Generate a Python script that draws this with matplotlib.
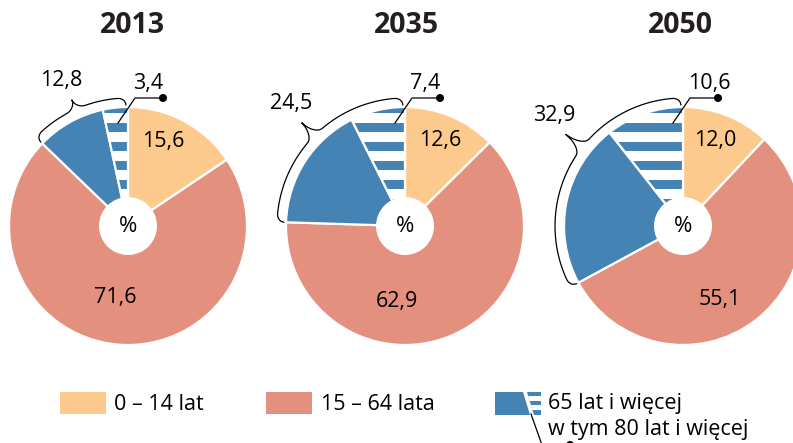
import numpy as np
import matplotlib
matplotlib.use("Agg")
import matplotlib.pyplot as plt
from matplotlib.patches import Wedge, Circle, Rectangle, Polygon

plt.rcParams["font.family"] = ["Open Sans", "DejaVu Sans"]

# --- data (percent of population) ---
YEARS = ["2013", "2035", "2050"]
AGE_0_14 = [15.6, 12.6, 12.0]
AGE_15_64 = [71.6, 62.9, 55.1]
AGE_65_PLUS = [12.8, 24.5, 32.9]
AGE_80_PLUS = [3.4, 7.4, 10.6]
LEGEND_LABELS = ["0 – 14 lat", "15 – 64 lata", "65 lat i więcej", "w tym 80 lat i więcej"]

YELLOW, SALMON, BLUE = "#FDCA8D", "#E4907F", "#4583B4"

# --- layout (pixels, y measured from the top) ---
W, H = 793, 443
CX = [128, 405, 683]
CY = 226
R, R_HOLE = 119, 29
TITLE_X = [132, 406, 680]
LAB_YOUNG = [(35, -85), (35, -86), (32, -86)]
LAB_MID = [(-13, 72), (-8, 76), (37, 74)]
TIP_ANG = [114, 135, 142]
TIP_OFF = [17, 25, 28]


def Y(py):
    return H - py


def fmt(v):
    return f"{v:.1f}".replace(".", ",")


def brace(ax, cx, a_lo, a_hi, a_tip, tip_off, b=7, h=8, ht=10):
    rb = R + 2

    def half(a_end):
        L = rb * np.radians(abs(a_tip - a_end))
        u = np.linspace(0, L, 200)
        off = np.full_like(u, float(b))
        m = u < h
        off[m] = b * np.sqrt(1 - (1 - u[m] / h) ** 2)
        m = u > L - ht
        t = (u[m] - (L - ht)) / ht
        off[m] = b + (tip_off - b) * (1 - np.sqrt(np.clip(1 - t ** 2, 0, 1)))
        ang = a_end + np.sign(a_tip - a_end) * np.degrees(u / rb)
        return ang, rb + off

    a1, r1 = half(a_lo)
    a2, r2 = half(a_hi)
    ang = np.r_[a1, a2[::-1]]
    rr = np.r_[r1, r2[::-1]]
    ax.plot(cx + rr * np.cos(np.radians(ang)), Y(CY) + rr * np.sin(np.radians(ang)),
            color="k", lw=0.9, solid_capstyle="round", zorder=5)
    tr = rb + tip_off
    return cx + tr * np.cos(np.radians(a_tip)), CY - tr * np.sin(np.radians(a_tip))


fig = plt.figure(figsize=(W / 100, H / 100), dpi=100)
ax = fig.add_axes([0, 0, 1, 1])
ax.set_xlim(0, W); ax.set_ylim(0, H); ax.axis("off")

for i, yr in enumerate(YEARS):
    cx, c = CX[i], (CX[i], Y(CY))
    s1 = AGE_0_14[i] * 3.6
    s65 = AGE_65_PLUS[i] * 3.6
    s80 = AGE_80_PLUS[i] * 3.6
    ew = dict(edgecolor="white", lw=1.6, zorder=1)
    ax.add_patch(Wedge(c, R, 90 - s1, 90, facecolor=YELLOW, **ew))
    ax.add_patch(Wedge(c, R, 90 + s65, 450 - s1, facecolor=SALMON, **ew))
    ax.add_patch(Wedge(c, R, 90 + s80, 90 + s65, facecolor=BLUE, **ew))
    old = Wedge(c, R, 90, 90 + s80, facecolor=BLUE, **ew)
    ax.add_patch(old)
    for k in range(7):
        py = 113 + 19 * k
        st = Rectangle((cx - R, Y(py + 9.5)), 2 * R, 9.5, facecolor="white",
                       edgecolor="none", zorder=2)
        ax.add_patch(st)
        st.set_clip_path(old)
    ax.add_patch(Circle(c, R_HOLE, facecolor="white", edgecolor="none", zorder=3))
    ax.text(cx, Y(CY), "%", ha="center", va="center", fontsize=16, zorder=4)

    ax.text(cx + LAB_YOUNG[i][0], Y(CY + LAB_YOUNG[i][1]), fmt(AGE_0_14[i]),
            ha="center", va="center", fontsize=15.5, zorder=4)
    ax.text(cx + LAB_MID[i][0], Y(CY + LAB_MID[i][1]), fmt(AGE_15_64[i]),
            ha="center", va="center", fontsize=15.5, zorder=4)

    # brace over the whole 65+ sector
    tx, ty = brace(ax, cx, 90 + s65, 91, TIP_ANG[i], TIP_OFF[i])
    ax.text(tx - 11, Y(ty - 19), fmt(AGE_65_PLUS[i]), ha="center", va="center", fontsize=15.5)

    # leader to the 80+ part
    ax.plot([cx - 10, cx + 7, cx + 35], [Y(123), Y(98), Y(98)], color="k", lw=0.9, zorder=5)
    ax.add_patch(Circle((cx + 35, Y(98)), 4, facecolor="k", edgecolor="none", zorder=5))
    ax.text(cx + 5, Y(83), fmt(AGE_80_PLUS[i]), ha="left", va="center", fontsize=15.5)

    ax.text(TITLE_X[i], Y(25), yr, ha="center", va="center", fontsize=20.5, fontweight="bold",
            color="#231f20")

# --- legend ---
ax.add_patch(Rectangle((60, Y(414)), 46, 22, facecolor=YELLOW, edgecolor="none"))
ax.text(114, Y(404), LEGEND_LABELS[0], ha="left", va="center", fontsize=15.5)
ax.add_patch(Rectangle((266, Y(414)), 46, 22, facecolor=SALMON, edgecolor="none"))
ax.text(321, Y(404), LEGEND_LABELS[1], ha="left", va="center", fontsize=15.5)
ax.add_patch(Polygon([(495, Y(392)), (523, Y(392)), (530, Y(415)), (495, Y(415))],
                     closed=True, facecolor=BLUE, edgecolor="none"))
striped = Polygon([(527, Y(392)), (541, Y(392)), (541, Y(415)), (534, Y(415))],
                  closed=True, facecolor=BLUE, edgecolor="none")
ax.add_patch(striped)
for py in (396, 405):
    st = Rectangle((520, Y(py + 4.5)), 30, 4.5, facecolor="white", edgecolor="none")
    ax.add_patch(st)
    st.set_clip_path(striped)
ax.plot([531, 542, 570], [Y(414), Y(445), Y(445)], color="k", lw=0.9)
ax.add_patch(Circle((570, Y(445)), 4, facecolor="k", edgecolor="none"))
ax.text(548, Y(404), LEGEND_LABELS[2], ha="left", va="center", fontsize=15.5)
ax.text(548, Y(430), LEGEND_LABELS[3], ha="left", va="center", fontsize=15.5)

fig.savefig("out.png", dpi=100)
